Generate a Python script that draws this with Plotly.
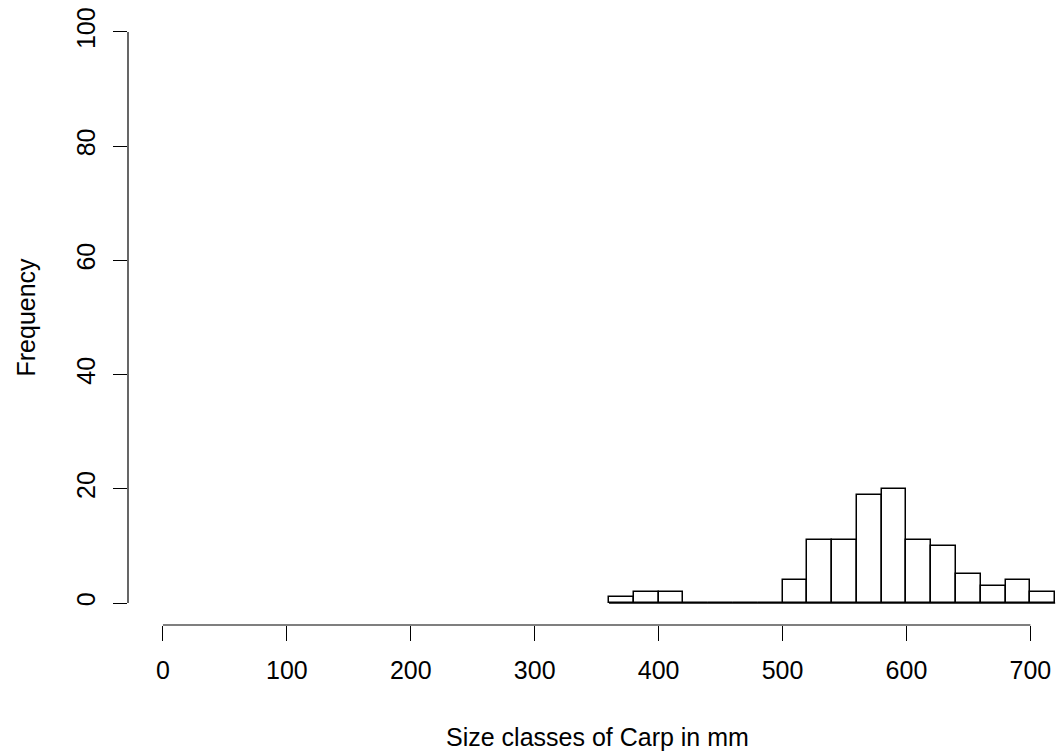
import plotly.graph_objects as go

# Data
bin_start = 360
bin_width = 20
counts = [1, 2, 2, 0, 0, 0, 0, 4, 11, 11, 19, 20, 11, 10, 5, 3, 4, 2]
x_ticks = [0, 100, 200, 300, 400, 500, 600, 700]
y_ticks = [0, 20, 40, 60, 80, 100]
x_title = "Size classes of Carp in mm"
y_title = "Frequency"

edges = [bin_start + i * bin_width for i in range(len(counts) + 1)]
centers = [(edges[i] + edges[i + 1]) / 2 for i in range(len(counts))]

W, H = 1058, 756
L, R, T, B = 128, 0, 10, 131
pw, ph = W - L - R, H - T - B
FONT = "Liberation Sans, Arial, sans-serif"
FS = 25

fig = go.Figure()
fig.add_trace(go.Scatter(
    x=[edges[0], edges[-1]], y=[0, 0], mode="lines",
    line=dict(color="black", width=1.5), showlegend=False, hoverinfo="skip"))
fig.add_trace(go.Bar(
    x=centers, y=counts, width=bin_width,
    marker=dict(color="white", line=dict(color="black", width=1.5)),
    showlegend=False))

fig.update_layout(
    width=W, height=H,
    margin=dict(l=L, r=R, t=T, b=B, pad=0),
    paper_bgcolor="white", plot_bgcolor="white",
    font=dict(family=FONT, size=FS, color="black"),
    xaxis=dict(range=[-28.2, 722.3], showgrid=False, zeroline=False, showline=False,
               tickmode="array", tickvals=x_ticks, ticks="outside", ticklen=15,
               tickwidth=1.2, tickcolor="black", ticklabelstandoff=8),
    yaxis=dict(range=[-3.85, 103.85], showgrid=False, zeroline=False, showline=False,
               tickmode="array", tickvals=y_ticks, ticks="outside", ticklen=14,
               tickwidth=1.2, tickcolor="black", tickangle=-90, ticklabelstandoff=8),
    shapes=[
        dict(type="line", xref="x", yref="paper", x0=x_ticks[0], x1=x_ticks[-1], y0=0, y1=0,
             line=dict(color="black", width=1.2)),
        dict(type="line", xref="paper", yref="y", x0=0, x1=0, y0=y_ticks[0], y1=y_ticks[-1],
             line=dict(color="black", width=1.2)),
    ],
    annotations=[
        dict(text=x_title, xref="paper", yref="paper", x=(597 - L) / pw, y=-(737 - (T + ph)) / ph,
             xanchor="center", yanchor="middle", showarrow=False, font=dict(size=FS)),
        dict(text=y_title, xref="paper", yref="paper", x=(25 - L) / pw, y=0.5,
             xanchor="center", yanchor="middle", textangle=-90, showarrow=False, font=dict(size=FS)),
    ],
    bargap=0,
)

fig.write_html("out.html")
